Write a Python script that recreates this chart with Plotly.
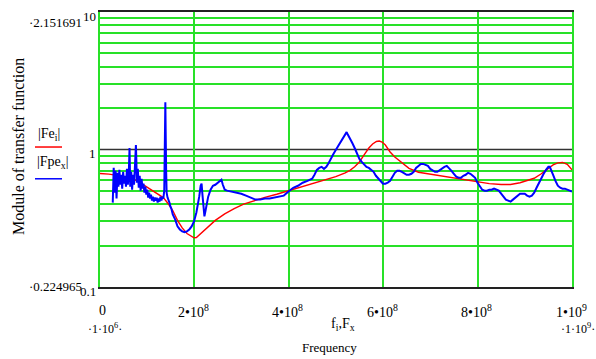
import plotly.graph_objects as go

# ---------------- data ----------------
# Fe_i (red, smooth) : frequency in MHz, module
fe_freq_mhz = [1, 20, 40, 60, 80, 100, 120, 135, 145, 155, 165, 175, 185, 195, 200, 205, 210, 220,
               230, 245, 265, 285, 305, 325, 350, 375, 400, 425, 450, 475, 500, 520, 530, 540, 550,
               560, 570, 578, 586, 592, 598, 605, 615, 625, 640, 655, 675, 700, 725, 750, 775, 800,
               825, 850, 870, 890, 905, 920, 935, 950, 960, 970, 980, 990, 1000]
fe_mod = [0.669, 0.662, 0.646, 0.628, 0.592, 0.536, 0.481, 0.447, 0.405, 0.360, 0.305, 0.269, 0.245,
          0.233, 0.228, 0.229, 0.237, 0.254, 0.271, 0.305, 0.340, 0.372, 0.401, 0.422, 0.449, 0.473,
          0.502, 0.536, 0.568, 0.603, 0.634, 0.677, 0.705, 0.748, 0.812, 0.913, 1.025, 1.096, 1.143,
          1.152, 1.133, 1.078, 0.959, 0.883, 0.799, 0.729, 0.683, 0.661, 0.644, 0.623, 0.603, 0.580,
          0.565, 0.557, 0.557, 0.573, 0.592, 0.618, 0.666, 0.729, 0.773, 0.799, 0.805, 0.780, 0.711]

# Fpe_x (blue, measured) : frequency in MHz, module
fpe_freq_mhz = [28, 30, 32, 34, 36, 38, 40, 42, 44, 46, 48, 50, 52, 54, 56, 58, 60, 62, 63.5, 65,
                67, 69, 71, 73, 75, 77, 78, 79, 81, 83, 85, 87, 89, 91, 93, 95, 97, 99, 101, 103,
                105, 107, 109, 111, 113, 115, 117, 119, 121, 123, 125, 127, 129, 131, 133, 135, 137,
                138.5, 139.3, 140, 141, 142, 144, 146, 148, 150, 152, 155, 160, 165, 170, 175, 180,
                185, 190, 195, 200, 205, 208, 211, 214, 216, 218, 220, 222, 224, 227, 230, 235, 240,
                245, 250, 255, 258, 261, 265, 270, 280, 290, 300, 310, 320, 330, 340, 350, 360, 370,
                380, 390, 400, 410, 420, 430, 440, 450, 455, 460, 465, 470, 475, 480, 485, 490, 495,
                500, 505, 510, 515, 520, 523, 526, 530, 535, 540, 545, 550, 555, 560, 565, 570, 575,
                580, 585, 590, 595, 600, 605, 610, 615, 620, 625, 630, 635, 640, 645, 650, 655, 660,
                665, 670, 675, 680, 685, 690, 695, 700, 705, 710, 715, 720, 725, 730, 735, 740, 745,
                750, 755, 760, 765, 770, 775, 780, 785, 790, 795, 800, 805, 810, 815, 820, 825, 830,
                835, 840, 845, 850, 855, 860, 865, 870, 875, 880, 885, 890, 895, 900, 905, 910, 915,
                920, 925, 930, 935, 940, 945, 950, 953, 956, 960, 965, 970, 975, 980, 985, 990, 995,
                1000]
fpe_mod = [0.411, 0.735, 0.485, 0.700, 0.440, 0.677, 0.536, 0.711, 0.554, 0.655, 0.519, 0.688, 0.564,
           0.644, 0.536, 0.723, 0.554, 0.677, 1.025, 0.536, 0.688, 0.510, 0.655, 0.554, 0.760, 1.078,
           0.826, 0.573, 0.723, 0.527, 0.644, 0.502, 0.613, 0.519, 0.564, 0.485, 0.536, 0.470, 0.510,
           0.447, 0.485, 0.440, 0.470, 0.425, 0.454, 0.418, 0.447, 0.425, 0.447, 0.411, 0.440, 0.418,
           0.454, 0.425, 0.454, 0.440, 0.502, 1.360, 2.203, 1.360, 0.700, 0.485, 0.447, 0.432, 0.411,
           0.385, 0.372, 0.337, 0.310, 0.276, 0.262, 0.254, 0.250, 0.254, 0.262, 0.276, 0.300, 0.348,
           0.391, 0.454, 0.545, 0.564, 0.462, 0.348, 0.326, 0.354, 0.411, 0.454, 0.510, 0.545, 0.554,
           0.573, 0.592, 0.603, 0.554, 0.510, 0.502, 0.494, 0.485, 0.477, 0.462, 0.447, 0.432, 0.432,
           0.440, 0.440, 0.447, 0.454, 0.462, 0.494, 0.527, 0.545, 0.573, 0.592, 0.613, 0.655, 0.711,
           0.735, 0.748, 0.723, 0.748, 0.799, 0.868, 0.928, 0.992, 1.060, 1.133, 1.211, 1.294, 1.338,
           1.273, 1.211, 1.114, 1.025, 0.928, 0.854, 0.812, 0.773, 0.748, 0.735, 0.711, 0.688, 0.644,
           0.613, 0.583, 0.564, 0.564, 0.573, 0.592, 0.634, 0.677, 0.700, 0.700, 0.688, 0.666, 0.655,
           0.655, 0.666, 0.688, 0.735, 0.760, 0.786, 0.786, 0.773, 0.760, 0.723, 0.700, 0.688, 0.688,
           0.711, 0.735, 0.748, 0.760, 0.735, 0.700, 0.666, 0.634, 0.623, 0.623, 0.644, 0.655, 0.677,
           0.666, 0.644, 0.623, 0.573, 0.536, 0.510, 0.502, 0.502, 0.510, 0.510, 0.519, 0.510, 0.502,
           0.477, 0.454, 0.432, 0.425, 0.418, 0.432, 0.447, 0.462, 0.477, 0.477, 0.477, 0.462, 0.454,
           0.462, 0.485, 0.527, 0.573, 0.613, 0.666, 0.711, 0.748, 0.748, 0.711, 0.655, 0.592, 0.545,
           0.527, 0.519, 0.519, 0.510, 0.502, 0.494]

x_grid = [2e8, 4e8, 6e8, 8e8]
y_grid = [0.2, 0.3, 0.4, 0.5, 0.6, 0.7, 0.8, 0.9, 2, 3, 4, 5, 6, 7, 8, 9]
x_tick_labels = ["0", "2•10<sup>8</sup>", "4•10<sup>8</sup>", "6•10<sup>8</sup>",
                 "8•10<sup>8</sup>", "1•10<sup>9</sup>"]

GREEN = "rgb(40,225,40)"
SERIF = "Liberation Serif"

fig = go.Figure()
fig.add_trace(go.Scatter(x=[f * 1e6 for f in fe_freq_mhz], y=fe_mod, mode="lines",
                         line=dict(color="#ff0000", width=1.4), showlegend=False))
fig.add_trace(go.Scatter(x=[f * 1e6 for f in fpe_freq_mhz], y=fpe_mod, mode="lines",
                         line=dict(color="#0000ff", width=2), showlegend=False))

fig.update_layout(
    width=596, height=359, autosize=False,
    margin=dict(l=100, r=24, t=10, b=72, pad=0),
    paper_bgcolor="white", plot_bgcolor="white",
    showlegend=False,
    xaxis=dict(range=[1e6, 1e9], tickvals=x_grid, showticklabels=False, ticks="",
               showgrid=True, gridcolor=GREEN, gridwidth=1.5, zeroline=False,
               showline=True, mirror=True, linecolor="#222222", linewidth=1.5),
    yaxis=dict(type="log", range=[-1, 1], tickvals=y_grid, showticklabels=False, ticks="",
               showgrid=True, gridcolor=GREEN, gridwidth=1.5, zeroline=False,
               showline=True, mirror=True, linecolor=GREEN, linewidth=1.8),
)

# dark line at module = 1 (major decade line)
fig.add_shape(type="line", xref="paper", yref="y", x0=0, x1=1, y0=1, y1=1,
              line=dict(color="#333333", width=1.5), layer="below")

ann = []
def txt(text, x, y, size=13, xanchor="center", yanchor="middle", angle=0):
    ann.append(dict(text=text, x=x, y=y, xref="paper", yref="paper", showarrow=False,
                    xanchor=xanchor, yanchor=yanchor, textangle=angle,
                    font=dict(family=SERIF, size=size, color="black")))

def px(xp):
    return (xp - 100) / 472.0

def py(yp):
    return (287 - yp) / 277.0

# y tick labels
txt("10", px(98), py(15), xanchor="right")
txt("1", px(98), py(153), xanchor="right")
txt("0.1", px(98), py(292), xanchor="right")
txt("·2.151691", px(27), py(21), size=13, xanchor="left")
txt("·0.224965", px(27), py(286), size=13, xanchor="left")

# x tick labels
x_label_px = [102, 193, 287, 382, 476, 571]
for lab, xp in zip(x_tick_labels, x_label_px):
    txt(lab, px(xp), py(311), size=14)
txt("·1·10<sup>6</sup>·", px(105), py(329), size=12)
txt("·1·10<sup>9</sup>·", px(578), py(329), size=12)
txt("f<sub>i</sub>,F<sub>x</sub>", px(343), py(325), size=14)
txt("Frequency", px(329), py(348), size=13)

# y title
txt("Module of transfer function", px(18), py(146), size=16, angle=-90)

# legend
txt("|Fe<sub>i</sub>|", px(49), py(133), size=14)
txt("|Fpe<sub>x</sub>|", px(53), py(162), size=14)
fig.add_shape(type="line", xref="paper", yref="paper", x0=px(35), x1=px(62),
              y0=py(146), y1=py(146), line=dict(color="#ff0000", width=1.5))
fig.add_shape(type="line", xref="paper", yref="paper", x0=px(35), x1=px(62),
              y0=py(178), y1=py(178), line=dict(color="#0000ff", width=1.5))

fig.update_layout(annotations=ann)
fig.write_html("out.html")
